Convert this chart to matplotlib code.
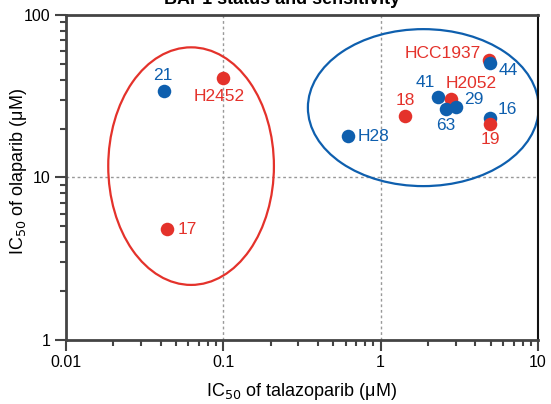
import matplotlib.pyplot as plt
from matplotlib.patches import Ellipse
from matplotlib.ticker import LogLocator, NullFormatter, FixedLocator, FixedFormatter

plt.rcParams['font.family'] = ['Liberation Sans', 'DejaVu Sans']

# cell lines: name, talazoparib IC50, olaparib IC50, group
names = ['HCC1937', '44', '41', 'H2052', '63', '29', '18', 'H28', '16', '19', '21', 'H2452', '17']
talazoparib = [4.9, 4.95, 2.32, 2.8, 2.6, 3.0, 1.43, 0.62, 4.95, 4.95, 0.042, 0.1, 0.044]
olaparib = [53.0, 50.5, 31.3, 30.4, 26.4, 27.2, 24.0, 18.0, 23.2, 21.3, 34.0, 41.0, 4.8]
group = ['red', 'blue', 'blue', 'red', 'blue', 'blue', 'red', 'blue', 'blue', 'red', 'blue', 'red', 'red']

# label offsets in pixels (dx, dy, ha, va)
offsets = {
    'HCC1937': (-8, 6, 'right', 'center'),
    '44': (9, -7, 'left', 'center'),
    '41': (-13, 14, 'center', 'center'),
    'H2052': (20, 16, 'center', 'center'),
    '63': (0, -17, 'center', 'center'),
    '29': (8, 7, 'left', 'center'),
    '18': (0, 15, 'center', 'center'),
    'H28': (10, 0, 'left', 'center'),
    '16': (8, 9, 'left', 'center'),
    '19': (0, -15, 'center', 'center'),
    '21': (-1, 16, 'center', 'center'),
    'H2452': (-4, -19, 'center', 'center'),
    '17': (10, 0, 'left', 'center'),
}

colors = {'red': '#E4322B', 'blue': '#0E5FAE'}

fig = plt.figure(figsize=(5.51, 4.04), dpi=100)
ax = fig.add_axes([66/551, 64/404, 472/551, 325/404])

ax.set_xscale('log')
ax.set_yscale('log')
ax.set_xlim(0.01, 10)
ax.set_ylim(1, 100)

# dotted reference lines
ax.axvline(0.1, color='#999999', ls=(0, (2, 2)), lw=1, zorder=0)
ax.axvline(1, color='#999999', ls=(0, (2, 2)), lw=1, zorder=0)
ax.axhline(10, color='#999999', ls=(0, (2, 2)), lw=1, zorder=0)

for i, n in enumerate(names):
    c = colors[group[i]]
    ax.scatter(talazoparib[i], olaparib[i], s=95, color=c, zorder=3 + i * 0.01, linewidths=0)
    dx, dy, ha, va = offsets[n]
    ax.annotate(n, (talazoparib[i], olaparib[i]), xytext=(dx, dy), textcoords='offset pixels',
                ha=ha, va=va, color=c, fontsize=12.5)

# group ellipses (axes coordinates)
ax.add_patch(Ellipse((0.265, 0.535), 0.351, 0.731, transform=ax.transAxes,
                     fill=False, ec=colors['red'], lw=1.6, zorder=2))
ax.add_patch(Ellipse((0.757, 0.715), 0.489, 0.483, transform=ax.transAxes,
                     fill=False, ec=colors['blue'], lw=1.6, zorder=2))

ax.xaxis.set_major_locator(FixedLocator([0.01, 0.1, 1, 10]))
ax.xaxis.set_major_formatter(FixedFormatter(['0.01', '0.1', '1', '10']))
ax.yaxis.set_major_locator(FixedLocator([1, 10, 100]))
ax.yaxis.set_major_formatter(FixedFormatter(['1', '10', '100']))
ax.xaxis.set_minor_locator(LogLocator(base=10, subs=range(2, 10)))
ax.yaxis.set_minor_locator(LogLocator(base=10, subs=range(2, 10)))
ax.xaxis.set_minor_formatter(NullFormatter())
ax.yaxis.set_minor_formatter(NullFormatter())

ax.tick_params(which='major', length=8, width=1.5, color='#444444', labelsize=11.5, pad=3)
ax.tick_params(which='minor', length=4, width=1.5, color='#444444')

for s in ax.spines.values():
    s.set_linewidth(2)
    s.set_color('#444444')
ax.spines['right'].set_color('#111111')
ax.spines['right'].set_linewidth(1.5)

ax.set_xlabel('IC$_{50}$ of talazoparib (\u03bcM)', fontsize=13)
ax.set_ylabel('IC$_{50}$ of olaparib (\u03bcM)', fontsize=13, va='center')
ax.xaxis.set_label_coords(0.5, -0.125)
ax.yaxis.set_label_coords(-0.1, 0.52)

fig.text(282/551, 1 - 4/404, 'BAP1 status and sensitivity', ha='center', va='baseline',
         fontsize=13, fontweight='bold')

fig.savefig('out.png', dpi=100)
